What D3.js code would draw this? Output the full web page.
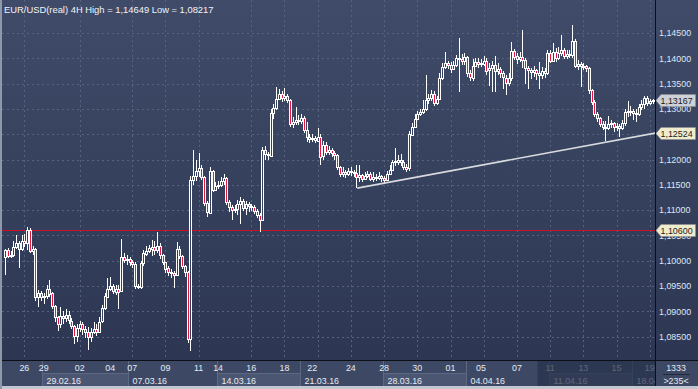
<!DOCTYPE html>
<html><head><meta charset="utf-8">
<script src="https://cdn.jsdelivr.net/npm/d3@7"></script>
<style>html,body{margin:0;padding:0;background:#2f3a55;overflow:hidden}svg{display:block}</style>
</head><body><svg id="c" width="698" height="389"></svg>
<script>
// ---------- data ----------
const title = "EUR/USD(real) 4H High = 1,14649 Low = 1,08217";
const firstOpen = 1.1008;
const closes = [
1.1021,1.1010,1.1012,1.1028,1.1035,1.1024,1.1040,1.1036,1.1061,1.1020,
1.1023,1.0929,1.0937,1.0929,1.0931,1.0945,1.0936,1.0910,1.0888,1.0874,
1.0890,1.0886,1.0892,1.0882,1.0872,1.0852,1.0868,1.0875,1.0866,1.0860,
1.0850,1.0860,1.0866,1.0860,1.0880,1.0906,1.0930,1.0945,1.0950,1.0940,
1.0945,1.0940,1.1008,1.1002,1.1004,1.0998,1.0994,1.0950,1.0948,1.0995,
1.1015,1.1020,1.1025,1.1028,1.1022,1.1030,1.1012,1.0998,1.0985,1.0978,
1.0976,1.0972,1.1024,1.1010,1.0990,1.0978,1.0845,1.1160,1.1168,1.1178,
1.1183,1.1165,1.1114,1.1096,1.1178,1.1140,1.1148,1.1150,1.1158,1.1164,
1.1116,1.1106,1.1100,1.1102,1.1112,1.1118,1.1104,1.1112,1.1108,1.1106,
1.1098,1.1090,1.1080,1.1218,1.1210,1.1208,1.1292,1.1302,1.1320,1.1330,
1.1322,1.1325,1.1318,1.1270,1.1274,1.1278,1.1276,1.1282,1.1258,1.1244,
1.1240,1.1242,1.1238,1.1245,1.1206,1.1228,1.1214,1.1218,1.1212,1.1208,
1.1185,1.1172,1.1175,1.1172,1.1178,1.1176,1.1174,1.1166,1.1170,1.1162,
1.1168,1.1172,1.1162,1.1165,1.1164,1.1167,1.1163,1.1160,1.1172,1.1180,
1.1196,1.1197,1.1200,1.1196,1.1186,1.1182,1.1250,1.1265,1.1280,1.1290,
1.1294,1.1300,1.1318,1.1322,1.1330,1.1312,1.1320,1.1362,1.1383,1.1390,
1.1386,1.1378,1.1386,1.1400,1.1398,1.1394,1.1402,1.1370,1.1362,1.1385,
1.1392,1.1388,1.1390,1.1395,1.1376,1.1380,1.1386,1.1374,1.1378,1.1370,
1.1362,1.1352,1.1362,1.1415,1.1404,1.1398,1.1402,1.1396,1.1380,1.1376,
1.1372,1.1376,1.1370,1.1366,1.1374,1.1370,1.1410,1.1394,1.1412,1.1400,
1.1410,1.1416,1.1404,1.1408,1.1406,1.1434,1.1385,1.1388,1.1384,1.1384,
1.1380,1.1337,1.1314,1.1290,1.1282,1.1270,1.1264,1.1262,1.1270,1.1272,
1.1264,1.1266,1.1262,1.1272,1.1294,1.1296,1.1296,1.1292,1.1290,1.1304,
1.1310,1.1322,1.1312,1.1315,1.13167];
const highs = [
1.1024,1.1025,1.1020,1.1040,1.1050,1.1040,1.1050,1.1052,1.1067,1.1064,
1.1030,1.1025,1.0942,1.0940,1.0936,1.0952,1.0962,1.0938,1.0912,1.0890,
1.0908,1.0900,1.0904,1.0900,1.0886,1.0874,1.0875,1.0882,1.0880,1.0872,
1.0870,1.0868,1.0880,1.0876,1.0888,1.0912,1.0936,1.0965,1.0968,1.0955,
1.0952,1.0952,1.1043,1.1015,1.1012,1.1008,1.1002,1.0998,1.0955,1.1000,
1.1022,1.1030,1.1032,1.1042,1.1040,1.1057,1.1035,1.1014,1.0998,1.0990,
1.0984,1.0980,1.1037,1.1030,1.1012,1.0992,1.0980,1.1168,1.1219,1.1200,
1.1213,1.1190,1.1168,1.1118,1.1185,1.1180,1.1155,1.1158,1.1165,1.1172,
1.1166,1.1120,1.1110,1.1110,1.1120,1.1126,1.1122,1.1118,1.1116,1.1112,
1.1110,1.1102,1.1094,1.1225,1.1226,1.1215,1.1300,1.1310,1.1343,1.1340,
1.1336,1.1342,1.1330,1.1320,1.1285,1.1304,1.1288,1.1290,1.1286,1.1275,
1.1250,1.1250,1.1246,1.1262,1.1250,1.1236,1.1234,1.1226,1.1222,1.1216,
1.1210,1.1188,1.1185,1.1180,1.1184,1.1186,1.1180,1.1190,1.1190,1.1172,
1.1176,1.1178,1.1176,1.1175,1.1172,1.1175,1.1170,1.1168,1.1178,1.1190,
1.1200,1.1223,1.1208,1.1210,1.1200,1.1192,1.1256,1.1272,1.1290,1.1296,
1.1300,1.1318,1.1367,1.1330,1.1338,1.1335,1.1326,1.1370,1.1390,1.1412,
1.1395,1.1392,1.1394,1.1406,1.1440,1.1408,1.1410,1.1404,1.1376,1.1398,
1.1400,1.1400,1.1398,1.1405,1.1400,1.1390,1.1395,1.1404,1.1390,1.1382,
1.1374,1.1368,1.1370,1.1432,1.1418,1.1410,1.1412,1.1456,1.1400,1.1384,
1.1380,1.1384,1.1378,1.1392,1.1382,1.1380,1.1416,1.1416,1.1430,1.1420,
1.1422,1.1446,1.1420,1.1416,1.1416,1.14649,1.1438,1.1396,1.1392,1.1390,
1.1386,1.1382,1.1340,1.1318,1.1294,1.1285,1.1276,1.1276,1.1286,1.1278,
1.1275,1.1272,1.1270,1.1278,1.1300,1.1316,1.1306,1.1300,1.1300,1.1310,
1.1318,1.1326,1.1326,1.1320,1.1320];
const lows = [
1.0972,1.1006,1.1005,1.1008,1.1024,1.0986,1.1020,1.1028,1.1022,1.1015,
1.1012,1.0920,1.0909,1.0920,1.0914,1.0925,1.0928,1.0905,1.0880,1.0862,
1.0868,1.0876,1.0880,1.0875,1.0866,1.0835,1.0840,1.0860,1.0854,1.0848,
1.0824,1.0840,1.0856,1.0852,1.0858,1.0878,1.0902,1.0928,1.0940,1.0935,
1.0932,1.0905,1.0938,1.0995,1.0992,1.0990,1.0985,1.0945,1.0944,1.0945,
1.0990,1.1010,1.1015,1.1010,1.1012,1.1015,1.1004,1.0992,1.0975,1.0970,
1.0966,1.0946,1.0970,1.1004,1.0984,1.0968,1.0838,1.08217,1.1150,1.1158,
1.1165,1.1160,1.1108,1.1086,1.1092,1.1135,1.1138,1.1142,1.1146,1.1150,
1.1110,1.1096,1.1080,1.1094,1.1090,1.1072,1.1098,1.1090,1.1096,1.1098,
1.1092,1.1084,1.1057,1.1078,1.1200,1.1200,1.1205,1.1280,1.1298,1.1318,
1.1314,1.1315,1.1312,1.1265,1.1262,1.1268,1.1268,1.1270,1.1252,1.1235,
1.1232,1.1234,1.1232,1.1236,1.1190,1.1200,1.1208,1.1208,1.1206,1.1200,
1.1180,1.1165,1.1166,1.1164,1.1168,1.1168,1.1166,1.1144,1.1156,1.1156,
1.1160,1.1163,1.1157,1.1156,1.1158,1.1160,1.1155,1.1154,1.1158,1.1170,
1.1178,1.1188,1.1190,1.1187,1.1180,1.1176,1.1178,1.1246,1.1262,1.1278,
1.1286,1.1290,1.1296,1.1310,1.1316,1.1306,1.1308,1.1318,1.1358,1.1378,
1.1378,1.1370,1.1376,1.1382,1.1333,1.1386,1.1386,1.1364,1.1356,1.1356,
1.1382,1.1380,1.1382,1.1385,1.1368,1.1345,1.1333,1.1333,1.1368,1.1362,
1.1340,1.1328,1.1345,1.1356,1.1396,1.1388,1.1392,1.1380,1.1350,1.1340,
1.1360,1.1364,1.1358,1.1340,1.1360,1.1362,1.1368,1.1390,1.1392,1.1392,
1.1396,1.1404,1.1398,1.1398,1.1400,1.1400,1.1380,1.1376,1.1344,1.1376,
1.1372,1.1330,1.1308,1.1284,1.1274,1.1264,1.1258,1.1236,1.1258,1.1262,
1.1254,1.1256,1.1245,1.1258,1.1266,1.1284,1.1286,1.1278,1.1274,1.1286,
1.1298,1.1300,1.1306,1.1308,1.1310];

const priceTicks = [1.085,1.090,1.095,1.100,1.105,1.110,1.115,1.120,1.125,1.130,1.135,1.140,1.145];
const gridIdx = [7,27,46,58,70,89,101,113,125,137,149,161,173,185,197,209,221,233];
const dayLabels = ["26","29","02","04","07","09","11","14","16","18","22","24","28","30","01","05","07","11","13","15","19"];
const dayIdx    = [7,14,27,38,46,58,70,77,89,101,111,125,137,149,161,172,185,197,209,221,233];
const weekLabels = ["29.02.16","07.03.16","14.03.16","21.03.16","28.03.16","04.04.16","11.04.16","18.04.16"];
const weekIdx    = [14,45,77,107,137,167,197,227];
const shadeFromIdx = 192.5;        // dimmed part of the time scale
const levelPrice = 1.10600;
const trendIdx = [127.3, 235];
const trendPrice = [1.11435, 1.12524];
const lastPrice = 1.13167;
const barsInfo = ["1333", ">235<"];

// ---------- layout ----------
const W = 698, H = 389;
const plotL = 2, plotR = 655, plotT = 0, plotB = 360;
const fmt = v => d3.format(".5f")(v).replace(".", ",");
const svg = d3.select("#c");
const x = d3.scaleLinear().domain([0, 234]).range([5, 652.5]);
const y = d3.scaleLinear().domain([1.085, 1.145]).range([336.7, 33]);
const FONT = "'Liberation Sans', Arial, sans-serif";
const FS = "8.9px";

const defs = svg.append("defs");
const g1 = defs.append("linearGradient").attr("id","bg").attr("x1",0).attr("y1",0).attr("x2",0).attr("y2",1);
g1.append("stop").attr("offset","0").attr("stop-color","#3f4b68");
g1.append("stop").attr("offset","1").attr("stop-color","#2d3753");
defs.append("clipPath").attr("id","clip").append("rect")
  .attr("x",plotL).attr("y",plotT).attr("width",plotR-plotL).attr("height",plotB-plotT);
defs.append("clipPath").attr("id","clipAxis").append("rect")
  .attr("x",plotL).attr("y",plotB).attr("width",plotR-plotL).attr("height",H-plotB);

// backgrounds
svg.append("rect").attr("x",0).attr("y",0).attr("width",W).attr("height",plotB).attr("fill","url(#bg)");
svg.append("rect").attr("x",0).attr("y",plotB).attr("width",W).attr("height",H-plotB).attr("fill","#3c4864");

// grid
const grid = svg.append("g").attr("clip-path","url(#clip)");
grid.selectAll("line.h").data(priceTicks).join("line")
  .attr("x1",plotL).attr("x2",plotR)
  .attr("y1",d=>Math.round(y(d))+0.5).attr("y2",d=>Math.round(y(d))+0.5)
  .attr("stroke","#56627f").attr("stroke-dasharray","2,3");
grid.selectAll("line.v").data(gridIdx).join("line")
  .attr("x1",d=>Math.round(x(d))+0.5).attr("x2",d=>Math.round(x(d))+0.5)
  .attr("y1",plotT).attr("y2",plotB)
  .attr("stroke","#56627f").attr("stroke-dasharray","2,3");

// level line
grid.append("line").attr("x1",plotL).attr("x2",plotR)
  .attr("y1",Math.round(y(levelPrice))+0.5).attr("y2",Math.round(y(levelPrice))+0.5)
  .attr("stroke","#d0152d").attr("stroke-width",1).attr("stroke-dasharray","3,1");

// candles
const bars = closes.map((c,i)=>({i, o: i===0?firstOpen:closes[i-1], c, h: highs[i], l: lows[i]}));
const cg = svg.append("g").attr("clip-path","url(#clip)").attr("shape-rendering","crispEdges");
cg.selectAll("line.w").data(bars).join("line")
  .attr("x1",d=>Math.round(x(d.i))+0.5).attr("x2",d=>Math.round(x(d.i))+0.5)
  .attr("y1",d=>y(Math.max(d.h,d.o,d.c))).attr("y2",d=>y(Math.min(d.l,d.o,d.c)))
  .attr("stroke","#ffffff");
cg.selectAll("rect.b").data(bars).join("rect")
  .attr("x",d=>Math.round(x(d.i))-0.5).attr("width",2)
  .attr("y",d=>Math.round(y(Math.max(d.o,d.c)))+0.5)
  .attr("height",d=>Math.max(1,Math.round(Math.abs(y(d.o)-y(d.c)))))
  .attr("fill",d=>d.c<d.o?"#e8163e":"#34405d")
  .attr("stroke","#ffffff").attr("stroke-width",1);

// trend line
svg.append("line").attr("clip-path","url(#clip)")
  .attr("x1",x(trendIdx[0])).attr("y1",y(trendPrice[0]))
  .attr("x2",x(trendIdx[1])).attr("y2",y(trendPrice[1]))
  .attr("stroke","#d8dade").attr("stroke-width",1.6);

// title
svg.append("text").attr("x",4).attr("y",13).text(title)
  .attr("fill","#f2f4f8").attr("font-family",FONT).attr("font-size","9.4px");

// right axis
svg.append("line").attr("x1",plotR+0.5).attr("x2",plotR+0.5).attr("y1",0).attr("y2",H)
  .attr("stroke","#0c0f16");
const tagPrices = [lastPrice, trendPrice[1], levelPrice];
svg.selectAll("text.py").data(priceTicks.filter(p=>tagPrices.every(t=>Math.abs(y(t)-y(p))>4))).join("text")
  .attr("x",659).attr("y",d=>y(d)).attr("dy","0.36em").text(fmt)
  .attr("fill","#dfe7f5").attr("font-family",FONT).attr("font-size",FS);

// price tags
function tag(p, fill){
  const yy = Math.round(y(p));
  const gg = svg.append("g");
  gg.append("path").attr("d",`M${plotR+1},${yy+0.5} L${plotR+6},${yy-5.5} L${W-2.5},${yy-5.5} L${W-2.5},${yy+6.5} L${plotR+6},${yy+6.5} Z`)
    .attr("fill",fill).attr("stroke","#8d8f94").attr("stroke-width",0.6);
  gg.append("text").attr("x",plotR+5.5).attr("y",yy+0.5).attr("dy","0.36em").text(fmt(p))
    .attr("fill","#1b1d22").attr("font-family",FONT).attr("font-size",FS);
}
tag(lastPrice,"#cdd1d8");
tag(trendPrice[1],"#efebcd");
tag(levelPrice,"#efebcd");

// bottom axis
svg.append("line").attr("x1",0).attr("x2",W).attr("y1",plotB+0.5).attr("y2",plotB+0.5).attr("stroke","#0c0f16");
const wk = svg.append("g").attr("clip-path","url(#clipAxis)");
weekIdx.forEach((wi,k)=>{
  const x0 = Math.round(x(wi-0.5))+0.5;
  const x1 = k<weekIdx.length-1 ? Math.round(x(weekIdx[k+1]-0.5))+0.5 : plotR;
  if(k%2===0){
    wk.append("rect").attr("x",x0).attr("y",373.5).attr("width",Math.min(x1,plotR)-x0).attr("height",13)
      .attr("fill","#4b5672").attr("stroke","#5d6883");
  }
  wk.append("line").attr("x1",x0).attr("x2",x0).attr("y1",plotB+1).attr("y2",387).attr("stroke","#5d6883");
  wk.append("text").attr("x",x0+4).attr("y",383.5).text(weekLabels[k])
    .attr("fill","#e6ebf3").attr("font-family",FONT).attr("font-size",FS);
});
wk.selectAll("text.dx").data(dayIdx).join("text")
  .attr("x",d=>x(d)).attr("y",371).attr("text-anchor","middle").text((d,k)=>dayLabels[k])
  .attr("fill","#e6ebf3").attr("font-family",FONT).attr("font-size",FS);
// dimmed tail of the time scale
svg.append("rect").attr("x",x(shadeFromIdx)).attr("y",plotB+1).attr("width",plotR-x(shadeFromIdx)).attr("height",H-plotB-4)
  .attr("fill","#27304a").attr("opacity",0.72);
svg.append("line").attr("x1",plotR+0.5).attr("x2",plotR+0.5).attr("y1",0).attr("y2",H).attr("stroke","#0c0f16");

// bars info box
svg.append("text").attr("x",676).attr("y",371).attr("text-anchor","middle").text(barsInfo[0])
  .attr("fill","#e6ebf3").attr("font-family",FONT).attr("font-size",FS);
svg.append("line").attr("x1",663).attr("x2",690).attr("y1",374.5).attr("y2",374.5).attr("stroke","#22293b");
svg.append("text").attr("x",676).attr("y",384).attr("text-anchor","middle").text(barsInfo[1])
  .attr("fill","#e6ebf3").attr("font-family",FONT).attr("font-size",FS);

// frame
svg.append("rect").attr("x",0).attr("y",H-3).attr("width",W).attr("height",3).attr("fill","#c3c8d0");
svg.append("rect").attr("x",0).attr("y",0).attr("width",2).attr("height",H).attr("fill","#8f98a8");
</script></body></html>
